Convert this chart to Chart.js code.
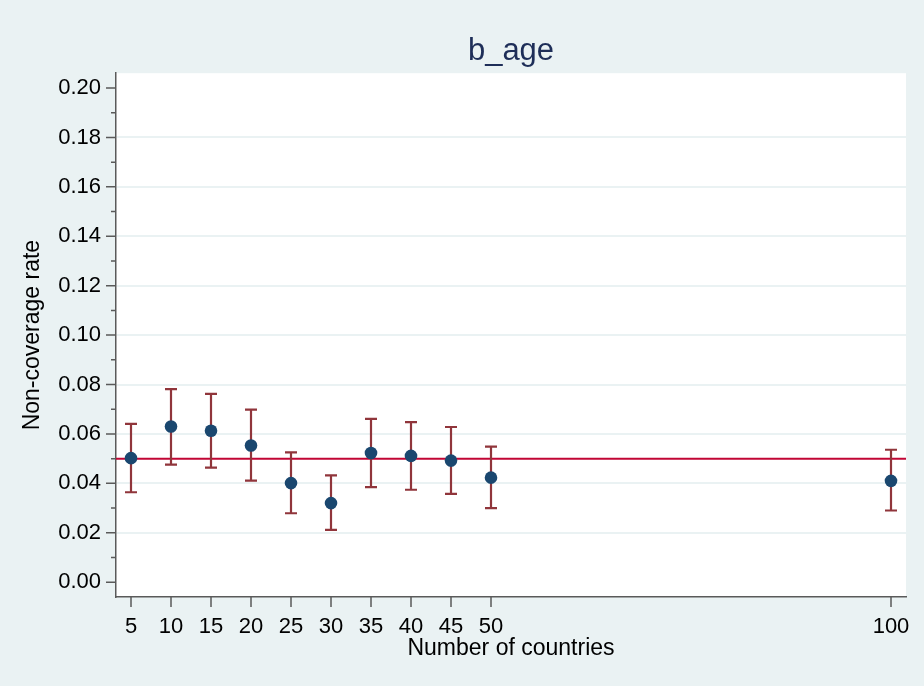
<!DOCTYPE html>
<html>
<head>
<meta charset="utf-8">
<script src="https://cdn.jsdelivr.net/npm/chart.js@4.4.1/dist/chart.umd.min.js"></script>
<style>
  html, body { margin: 0; padding: 0; background: #EAF2F3; }
  #wrap { width: 924px; height: 686px; }
</style>
</head>
<body>
<div id="wrap"><canvas id="c" width="924" height="686"></canvas></div>
<script>
// Non-coverage rate of the b_age interval by number of countries
const countries = [5, 10, 15, 20, 25, 30, 35, 40, 45, 50, 100];
const rate   = [0.0502, 0.0630, 0.0613, 0.0553, 0.0401, 0.0320, 0.0523, 0.0511, 0.0492, 0.0423, 0.0410];
const ciLow  = [0.0364, 0.0476, 0.0464, 0.0411, 0.0279, 0.0212, 0.0385, 0.0374, 0.0357, 0.0300, 0.0290];
const ciHigh = [0.0641, 0.0781, 0.0762, 0.0698, 0.0525, 0.0432, 0.0661, 0.0648, 0.0628, 0.0549, 0.0536];
const xTicks = [5, 10, 15, 20, 25, 30, 35, 40, 45, 50, 100];
const yTicks = [0, 0.02, 0.04, 0.06, 0.08, 0.10, 0.12, 0.14, 0.16, 0.18, 0.20];
const yMinorTicks = [0.01, 0.03, 0.05, 0.07, 0.09, 0.11, 0.13, 0.15, 0.17, 0.19];
const nominalRate = 0.05;

const FONT = "'Liberation Sans', Arial, sans-serif";
const AXIS_COLOR = '#5a5a5a';
const NAVY = '#1A476F';
const MAROON = '#90353B';
const CRANBERRY = '#C10534';

// white plot region, reference line and confidence caps
const plotDecor = {
  id: 'plotDecor',
  beforeDraw(chart) {
    const { ctx, chartArea: a } = chart;
    ctx.save();
    ctx.fillStyle = '#ffffff';
    ctx.fillRect(a.left, a.top, a.right - a.left, a.bottom - a.top);
    ctx.restore();
  },
  beforeDatasetsDraw(chart) {
    const { ctx, chartArea: a, scales: { x, y } } = chart;
    ctx.save();
    // reference line at the nominal rate
    const yl = y.getPixelForValue(nominalRate);
    ctx.strokeStyle = CRANBERRY;
    ctx.lineWidth = 2;
    ctx.beginPath();
    ctx.moveTo(a.left, yl);
    ctx.lineTo(a.right, yl);
    ctx.stroke();
    // interval caps
    ctx.strokeStyle = MAROON;
    ctx.lineWidth = 2.2;
    const cap = 6;
    countries.forEach((c, i) => {
      const px = x.getPixelForValue(c);
      const lo = y.getPixelForValue(ciLow[i]);
      const hi = y.getPixelForValue(ciHigh[i]);
      ctx.beginPath();
      ctx.moveTo(px, lo); ctx.lineTo(px, hi);
      ctx.moveTo(px - cap, lo); ctx.lineTo(px + cap, lo);
      ctx.moveTo(px - cap, hi); ctx.lineTo(px + cap, hi);
      ctx.stroke();
    });
    ctx.restore();
  },
  afterDraw(chart) {
    const { ctx, chartArea: a, scales: { x, y } } = chart;
    ctx.save();
    ctx.strokeStyle = AXIS_COLOR;
    ctx.lineWidth = 1.5;
    ctx.beginPath();
    yTicks.forEach(v => {
      const py = y.getPixelForValue(v);
      ctx.moveTo(a.left - 10, py); ctx.lineTo(a.left, py);
    });
    yMinorTicks.forEach(v => {
      const py = y.getPixelForValue(v);
      ctx.moveTo(a.left - 5, py); ctx.lineTo(a.left, py);
    });
    xTicks.forEach(v => {
      const px = x.getPixelForValue(v);
      ctx.moveTo(px, a.bottom); ctx.lineTo(px, a.bottom + 10);
    });
    ctx.stroke();
    ctx.restore();
  }
};

new Chart(document.getElementById('c'), {
  type: 'scatter',
  data: {
    datasets: [{
      label: 'Non-coverage rate',
      data: countries.map((c, i) => ({ x: c, y: rate[i] })),
      backgroundColor: NAVY,
      borderWidth: 0,
      pointRadius: 6.3,
      pointHoverRadius: 6.3
    }]
  },
  options: {
    responsive: false,
    devicePixelRatio: 1,
    animation: false,
    layout: { padding: { top: 0, right: 18, bottom: 0, left: 0 } },
    plugins: {
      legend: { display: false },
      tooltip: { enabled: false },
      title: {
        display: true,
        text: 'b_age',
        fullSize: false,
        color: '#1E2E58',
        font: { family: FONT, size: 31, weight: 'normal' },
        padding: { top: 33, bottom: 3 }
      }
    },
    scales: {
      x: {
        type: 'linear',
        min: 3.125,
        max: 101.875,
        afterBuildTicks: s => { s.ticks = xTicks.map(v => ({ value: v })); },
        afterFit: s => { s.height = 89; s.paddingLeft = 0; s.paddingRight = 0; },
        ticks: {
          autoSkip: false,
          maxRotation: 0,
          padding: 17,
          color: '#000',
          font: { family: FONT, size: 22 },
          callback: v => String(v)
        },
        grid: { display: true, color: 'transparent', drawTicks: false },
        border: { display: true, color: AXIS_COLOR, width: 1.5 },
        title: {
          display: true,
          text: 'Number of countries',
          color: '#000',
          font: { family: FONT, size: 23 },
          padding: { top: 0, bottom: 24 }
        }
      },
      y: {
        type: 'linear',
        min: -0.006,
        max: 0.206,
        afterBuildTicks: s => { s.ticks = yTicks.map(v => ({ value: v })); },
        afterFit: s => { s.width = 116; s.paddingTop = 0; s.paddingBottom = 0; },
        ticks: {
          autoSkip: false,
          padding: 15,
          color: '#000',
          font: { family: FONT, size: 22 },
          callback: v => Number(v).toFixed(2)
        },
        grid: {
          display: true,
          drawTicks: false,
          lineWidth: 2,
          color: c => (c.tick && c.tick.value > 0.001 && c.tick.value < 0.199) ? '#EAF2F3' : 'transparent'
        },
        border: { display: true, color: AXIS_COLOR, width: 1.5 },
        title: {
          display: true,
          text: 'Non-coverage rate',
          color: '#000',
          font: { family: FONT, size: 23 },
          padding: { top: 19, bottom: 0 }
        }
      }
    }
  },
  plugins: [plotDecor]
});
</script>
</body>
</html>
